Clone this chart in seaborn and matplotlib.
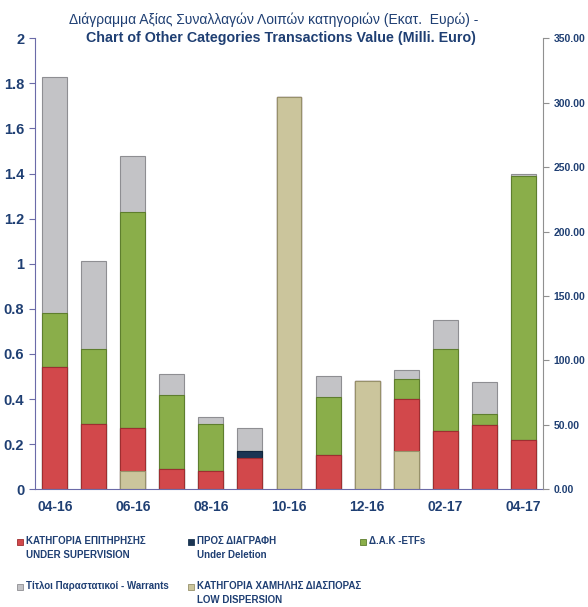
import numpy as np
import pandas as pd
import seaborn as sns
import matplotlib.pyplot as plt
from matplotlib.patches import Rectangle

# months on the x axis
months = ["04-16", "05-16", "06-16", "07-16", "08-16", "09-16", "10-16",
          "11-16", "12-16", "01-17", "02-17", "03-17", "04-17"]
tick_labels = ["04-16", "", "06-16", "", "08-16", "", "10-16",
               "", "12-16", "", "02-17", "", "04-17"]

# values per category (Milli. Euro, left axis scale)
low_dispersion = [0.00, 0.00, 0.08, 0.00, 0.00, 0.00, 1.74, 0.00, 0.48, 0.17, 0.00, 0.00, 0.00]
under_supervision = [0.54, 0.29, 0.19, 0.09, 0.08, 0.14, 0.00, 0.15, 0.00, 0.23, 0.26, 0.285, 0.22]
under_deletion = [0.00, 0.00, 0.00, 0.00, 0.00, 0.03, 0.00, 0.00, 0.00, 0.00, 0.00, 0.00, 0.00]
etfs = [0.24, 0.33, 0.96, 0.33, 0.21, 0.00, 0.00, 0.26, 0.00, 0.09, 0.36, 0.05, 1.17]
warrants = [1.05, 0.39, 0.25, 0.09, 0.03, 0.10, 0.00, 0.09, 0.00, 0.04, 0.13, 0.14, 0.01]

right_ticks = [0, 50, 100, 150, 200, 250, 300, 350]

txt_col = "#1F3F73"
col_red = "#D2484B"
col_navy = "#1B3553"
col_green = "#8AAE4A"
col_grey = "#C3C3C6"
col_beige = "#CBC59C"

sns.set_style("white")
plt.rcParams["font.family"] = ["Liberation Sans", "DejaVu Sans"]

df = pd.DataFrame({
    "month": months,
    "low": low_dispersion,
    "sup": under_supervision,
    "del": under_deletion,
    "etf": etfs,
    "war": warrants,
})
# cumulative tops, bottom layer first
df["c_low"] = df["low"]
df["c_sup"] = df["c_low"] + df["sup"]
df["c_del"] = df["c_sup"] + df["del"]
df["c_etf"] = df["c_del"] + df["etf"]
df["c_war"] = df["c_etf"] + df["war"]

fig = plt.figure(figsize=(5.88, 6.07), dpi=100)
ax = fig.add_axes([0.060, 0.194, 0.863, 0.743])

layers = [("c_war", col_grey, "#8E8E92"),
          ("c_etf", col_green, "#5E7E2E"),
          ("c_del", col_navy, "#10253D"),
          ("c_sup", col_red, "#9E2E30"),
          ("c_low", col_beige, "#97916A")]
for key, c, ec in layers:
    sns.barplot(data=df, x="month", y=key, color=c, width=0.64,
                edgecolor=ec, linewidth=0.8, saturation=1, ax=ax)

ax.set_ylim(0, 2)
ax.set_xlim(-0.5, 12.5)
ax.set_yticks(np.arange(0, 2.01, 0.2))
ax.set_yticklabels(["0", "0.2", "0.4", "0.6", "0.8", "1", "1.2", "1.4", "1.6", "1.8", "2"])
ax.set_xticks(range(len(months)))
ax.set_xticklabels(tick_labels)
ax.set_xticks(np.arange(-0.5, 13, 1), minor=True)
ax.tick_params(axis="x", which="major", length=0, pad=8, labelsize=10, labelcolor=txt_col)
ax.tick_params(axis="x", which="minor", length=4, color="#6B6BA8", direction="out")
ax.tick_params(axis="y", length=4, color="#6B6BA8", direction="out",
               labelsize=10.5, labelcolor=txt_col, pad=4)
for t in ax.get_yticklabels() + ax.get_xticklabels():
    t.set_fontweight("bold")
ax.set_xlabel("")
ax.set_ylabel("")
for s in ["top", "right"]:
    ax.spines[s].set_visible(False)
ax.spines["left"].set_color("#6B6BA8")
ax.spines["bottom"].set_color("#6B6BA8")

ax2 = ax.twinx()
ax2.set_ylim(0, 350)
ax2.set_yticks(right_ticks)
ax2.set_yticklabels([f"{v:.2f}" for v in right_ticks])
ax2.tick_params(axis="y", length=4, color="#909090", labelsize=7.5, labelcolor=txt_col, pad=4)
for t in ax2.get_yticklabels():
    t.set_fontweight("bold")
for s in ["top", "left", "bottom"]:
    ax2.spines[s].set_visible(False)
ax2.spines["right"].set_color("#909090")

fig.text(0.465, 0.968, "Διάγραμμα Αξίας Συναλλαγών Λοιπών κατηγοριών (Εκατ.  Ευρώ) -",
         ha="center", va="center", fontsize=10, color=txt_col)
fig.text(0.478, 0.937, "Chart of Other Categories Transactions Value (Milli. Euro)",
         ha="center", va="center", fontsize=10.3, color=txt_col, fontweight="bold")

# legend laid out by hand, in pixel positions of the figure
W, H = 588, 607
legend_items = [
    (col_red, "#9E2E30", "ΚΑΤΗΓΟΡΙΑ ΕΠΙΤΗΡΗΣΗΣ\nUNDER SUPERVISION", 17, 539),
    (col_navy, col_navy, "ΠΡΟΣ ΔΙΑΓΡΑΦΗ\nUnder Deletion", 188, 539),
    (col_green, "#5E7E2E", "Δ.Α.Κ -ETFs", 360, 539),
    (col_grey, "#8E8E92", "Τίτλοι Παραστατικοί - Warrants", 17, 584),
    (col_beige, "#97916A", "ΚΑΤΗΓΟΡΙΑ ΧΑΜΗΛΗΣ ΔΙΑΣΠΟΡΑΣ\nLOW DISPERSION", 188, 584),
]
for fc, ec, lab, px, py in legend_items:
    fig.add_artist(Rectangle((px / W, 1 - (py + 6) / H), 6 / W, 6 / H,
                             facecolor=fc, edgecolor=ec, linewidth=0.6,
                             transform=fig.transFigure))
    fig.text((px + 9) / W, 1 - (py - 3) / H, lab, ha="left", va="top",
             fontsize=7, color=txt_col, fontweight="bold", linespacing=1.45)

fig.savefig("out.png", dpi=100)
